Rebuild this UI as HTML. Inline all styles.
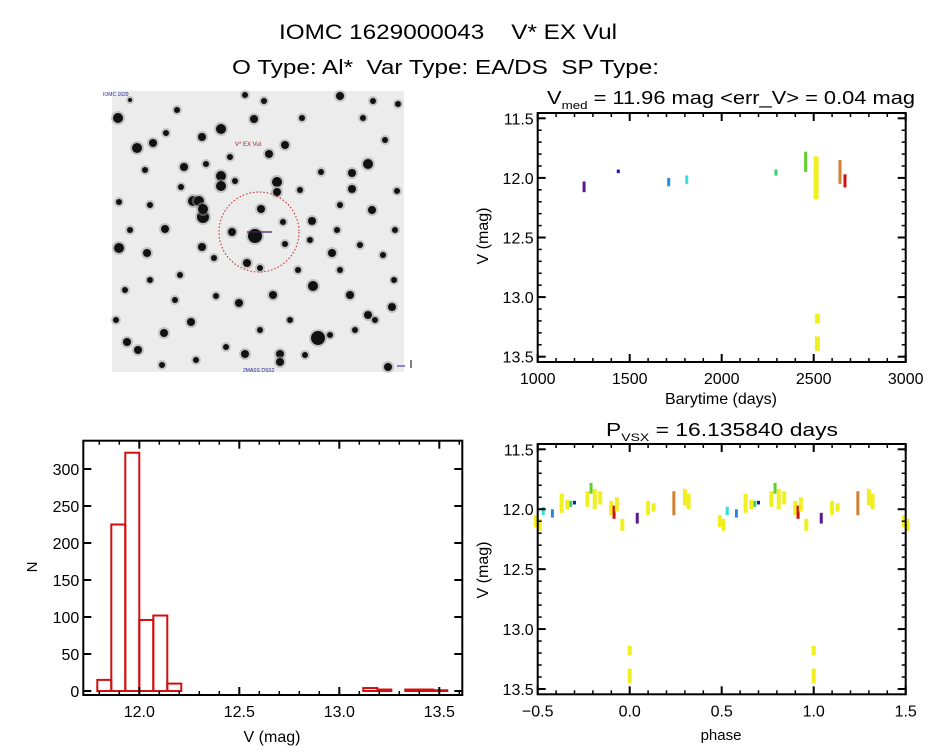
<!DOCTYPE html>
<html><head><meta charset="utf-8"><style>
body{margin:0;background:#fff;}
svg text{font-family:"Liberation Sans",sans-serif;fill:#000;}
</style></head><body>
<svg id="root" width="944" height="747" viewBox="0 0 944 747" xmlns="http://www.w3.org/2000/svg">
<rect width="944" height="747" fill="#fff"/>
<text x="279" y="39" font-size="21" textLength="338" lengthAdjust="spacingAndGlyphs" xml:space="preserve">IOMC 1629000043    V* EX Vul</text>
<text x="232" y="74" font-size="20" textLength="427" lengthAdjust="spacingAndGlyphs" xml:space="preserve">O Type: Al*  Var Type: EA/DS  SP Type:</text>
<g id="field"></g>
<g id="lc"></g>
<g id="hist"></g>
<g id="ph"></g>
</svg>
<script>
// ---- light curve data (time groups) ----
const lcTime = [1252, 1438, 1712, 1810, 2295, 2456, 2513, 2520, 2520, 2643, 2670];
const lcMagMin = [12.03, 11.93, 12.00, 11.98, 11.93, 11.78, 11.82, 13.14, 13.33, 11.85, 11.97];
const lcMagMax = [12.12, 11.96, 12.07, 12.05, 11.98, 11.95, 12.18, 13.22, 13.45, 12.05, 12.08];
const lcColor = ['#5a1a8a','#1a1aa8','#2a8ae0','#30e0e0','#30d070','#60d030','#f0f020','#f0f020','#f0f020','#d08030','#d01010'];
const lcXTicks = [1000, 1500, 2000, 2500, 3000];
const magTicks = [11.5, 12.0, 12.5, 13.0, 13.5];
// ---- phase data ----
const phPhase = [0.0, 0.0, 0.041, 0.10, 0.13, 0.24, 0.30, 0.32, 0.49, 0.51, 0.53, 0.58, 0.63, 0.66, 0.68, 0.70, 0.77, 0.79, 0.81, 0.84, 0.90, 0.915, 0.93, 0.96];
const phMagMin = [13.14, 13.33, 12.03, 11.93, 11.95, 11.85, 11.83, 11.87, 12.05, 12.08, 11.98, 12.00, 11.87, 11.92, 11.93, 11.93, 11.85, 11.78, 11.83, 11.85, 11.93, 11.97, 11.90, 12.08];
const phMagMax = [13.22, 13.45, 12.12, 12.05, 12.02, 12.05, 11.97, 12.00, 12.15, 12.18, 12.05, 12.07, 12.03, 12.00, 11.98, 11.96, 11.98, 11.87, 12.00, 11.96, 12.05, 12.08, 12.02, 12.18];
const phColor = ['#f0f020','#f0f020','#5a1a8a','#f0f020','#f0f020','#d08030','#f0f020','#f0f020','#f0f020','#f0f020','#30e0e0','#2a8ae0','#f0f020','#f0f020','#30d070','#1a1aa8','#f0f020','#60d030','#f0f020','#f0f020','#f0f020','#d01010','#f0f020','#f0f020'];
const phXTicks = [-0.5, 0.0, 0.5, 1.0, 1.5];
// ---- histogram data ----
const histStart = 11.79;
const histWidth = 0.07;
const histCounts = [15,225,322,96,102,10,0,0,0,0,0,0,0,0,0,0,0,0,0,4,2,0,2,2,1];
const histYTicks = [0,50,100,150,200,250,300];
const histXTicks = [12.0,12.5,13.0,13.5];

const NS='http://www.w3.org/2000/svg';
function mk(parent,tag,attrs,txt){const e=document.createElementNS(NS,tag);for(const k in attrs)e.setAttribute(k,attrs[k]);if(txt!==undefined)e.textContent=txt;parent.appendChild(e);return e;}

function frame(g,L,T,R,B,xs,ys,xmaj,xmin,ymaj,ymin,xfmt,yfmt){
  const r=mk(g,'rect',{x:L,y:T,width:R-L,height:B-T,fill:'none',stroke:'#000','stroke-width':2});
  
  
  xmin.forEach(v=>{const x=xs(v);mk(g,'line',{x1:x,x2:x,y1:B,y2:B-4,stroke:'#000','stroke-width':1.5});mk(g,'line',{x1:x,x2:x,y1:T,y2:T+4,stroke:'#000','stroke-width':1.5});});
  ymin.forEach(v=>{const y=ys(v);mk(g,'line',{x1:L,x2:L+4,y1:y,y2:y,stroke:'#000','stroke-width':1.5});mk(g,'line',{x1:R,x2:R-4,y1:y,y2:y,stroke:'#000','stroke-width':1.5});});
  xmaj.forEach(v=>{const x=xs(v);mk(g,'line',{x1:x,x2:x,y1:B,y2:B-8,stroke:'#000','stroke-width':2});mk(g,'line',{x1:x,x2:x,y1:T,y2:T+8,stroke:'#000','stroke-width':2});
    const t=mk(g,'text',{x:x,y:B+22,'font-size':16,'text-anchor':'middle'},xfmt(v));
    
    });
  ymaj.forEach(v=>{const y=ys(v);mk(g,'line',{x1:L,x2:L+8,y1:y,y2:y,stroke:'#000','stroke-width':2});mk(g,'line',{x1:R,x2:R-8,y1:y,y2:y,stroke:'#000','stroke-width':2});
    const t=mk(g,'text',{x:L-4,y:y+6,'font-size':16,'text-anchor':'end'},yfmt(v));
    
    });
}
function range(a,b,s){const o=[];for(let v=a;v<=b+1e-9;v+=s)o.push(+v.toFixed(4));return o;}

// ---- light curve ----
(function(){
  const g=document.getElementById('lc');
  const L=537.7,R=905.7,T=113,B=362;
  const xs=v=>L+(v-1000)/2000*(R-L);
  const ys=v=>118.3+(v-11.5)*119.2;
  lcTime.forEach((t,i)=>{
    const w=lcColor[i]==='#f0f020'?5:3;
    const r=mk(g,'rect',{x:xs(t)-w/2,y:ys(lcMagMin[i]),width:w,height:Math.max(3,ys(lcMagMax[i])-ys(lcMagMin[i])),fill:lcColor[i]});
    
    
  });
  frame(g,L,T,R,B,xs,ys,lcXTicks,range(1000,3000,100),magTicks,range(11.5,13.5,0.1),v=>String(v),v=>v.toFixed(1));
  const t1=mk(g,'text',{x:547,y:104,'font-size':18,textLength:368,lengthAdjust:'spacingAndGlyphs'});
  
  
  t1.innerHTML='V<tspan font-size="11" dy="5">med</tspan><tspan dy="-5"> = 11.96 mag &lt;err_V&gt; = 0.04 mag</tspan>';
  const xt=mk(g,'text',{x:721,y:404,'font-size':16,'text-anchor':'middle'},'Barytime (days)');
  
  
  const yt=mk(g,'text',{x:0,y:0,'font-size':16,'text-anchor':'middle',transform:'translate(488,236) rotate(-90)'},'V (mag)');
  
  
})();

// ---- phase ----
(function(){
  const g=document.getElementById('ph');
  const L=537.7,R=905.7,T=444,B=694.3;
  const xs=v=>L+(v+0.5)/2*(R-L);
  const ys=v=>449.3+(v-11.5)*119.85;
  phPhase.forEach((p,i)=>{
    [p-1,p,p+1].forEach(q=>{
      if(q<-0.51||q>1.51)return;
      const w=phColor[i]==='#f0f020'?4:3;
      const r=mk(g,'rect',{x:xs(q)-w/2,y:ys(phMagMin[i]),width:w,height:Math.max(3,ys(phMagMax[i])-ys(phMagMin[i])),fill:phColor[i]});
      
      
    });
  });
  frame(g,L,T,R,B,xs,ys,phXTicks,range(-0.5,1.5,0.1),magTicks,range(11.5,13.5,0.1),v=>v<0?'\u2212'+Math.abs(v).toFixed(1):v.toFixed(1),v=>v.toFixed(1));
  const t1=mk(g,'text',{x:606,y:436,'font-size':18,textLength:232,lengthAdjust:'spacingAndGlyphs'});
  
  
  t1.innerHTML='P<tspan font-size="11" dy="5">VSX</tspan><tspan dy="-5"> = 16.135840 days</tspan>';
  const xt=mk(g,'text',{x:721,y:740,'font-size':15,'text-anchor':'middle'},'phase');
  
  
  const yt=mk(g,'text',{x:0,y:0,'font-size':16,'text-anchor':'middle',transform:'translate(488,570) rotate(-90)'},'V (mag)');
  
  
})();

// ---- histogram ----
(function(){
  const g=document.getElementById('hist');
  const L=83.3,R=462.3,T=440.7,B=695;
  const xs=v=>139.3+(v-12.0)*200;
  const ys=v=>691-v*0.74;
  histCounts.forEach((c,i)=>{
    const x0=xs(histStart+i*histWidth),x1=xs(histStart+(i+1)*histWidth);
    const r=mk(g,'rect',{x:x0,y:ys(c),width:x1-x0,height:ys(0)-ys(c),fill:'none',stroke:'#d01010','stroke-width':2});
    
    
  });
  frame(g,L,T,R,B,xs,ys,histXTicks,range(11.8,13.6,0.1),histYTicks,[],v=>v.toFixed(1),v=>String(v));
  const xt=mk(g,'text',{x:272,y:742,'font-size':16,'text-anchor':'middle'},'V (mag)');
  
  
  const yt=mk(g,'text',{x:0,y:0,'font-size':15,'text-anchor':'middle',transform:'translate(37,567) rotate(-90)'},'N');
  
  
})();

// ---- star field image ----
(function(){
  const g=document.getElementById('field');
  mk(g,'rect',{x:112,y:91,width:292,height:281,fill:'#ececec'});
  const stars=[[118,118,5],[221,129,5],[254,119,4],[137,148,5],[153,143,4],[166,133,3],[202,137,4],[285,145,4],[269,154,4],[368,164,5],[184,167,4],[221,176,5],[221,186,5],[235,181,3],[277,182,5],[277,192,4],[352,173,4],[352,189,4],[181,187,3],[193,201,5],[199,201,5],[203,217,6],[203,209,5],[261,209,4],[312,221,4],[255,236,7],[232,232,4],[119,248,5],[332,253,4],[313,286,5],[273,295,4],[239,303,4],[350,295,4],[318,338,7],[392,307,4],[368,315,4],[191,322,4],[164,333,4],[127,342,4],[138,350,4],[245,354,4],[280,354,4],[280,362,4],[388,367,4],[202,247,4],[147,253,4],[165,229,4],[119,202,3],[247,263,4],[285,244,3],[283,222,3],[397,191,3],[372,210,4],[337,230,3],[245,95,3],[340,96,4],[302,118,3],[363,118,3],[373,101,3],[398,104,3],[385,140,3],[130,100,2],[177,110,3],[264,101,3],[230,157,3],[206,164,3],[145,170,3],[214,258,3],[150,280,3],[175,300,3],[216,296,3],[226,347,3],[305,355,3],[330,335,3],[355,330,3],[375,320,3],[340,270,3],[360,245,3],[383,255,3],[298,270,3],[290,320,3],[260,330,3],[180,275,3],[125,290,3],[116,320,3],[395,230,3],[394,280,3],[321,172,3],[300,190,3],[130,230,3],[150,205,3],[260,268,3],[340,205,3],[310,240,3],[196,360,3],[162,365,3]];
  stars.forEach(s=>{
    mk(g,'circle',{cx:s[0],cy:s[1],r:s[2]+2,fill:'#9a9a9a',opacity:0.5});
    mk(g,'circle',{cx:s[0],cy:s[1],r:s[2],fill:'#111'});
  });
  mk(g,'circle',{cx:259,cy:232,r:40,fill:'none',stroke:'#c02020','stroke-width':1,'stroke-dasharray':'1.5,2'});
  mk(g,'line',{x1:247,x2:272,y1:232,y2:232,stroke:'#402060','stroke-width':1.2});
  const lb=mk(g,'text',{x:248,y:146,'font-size':6,'text-anchor':'middle',style:'fill:#a02020'},'V* EX Vul');
  
  
  mk(g,'text',{x:103,y:96,'font-size':5,style:'fill:#20209a'},'IOMC 1629');
  mk(g,'text',{x:243,y:372,'font-size':5,style:'fill:#20209a'},'2MASS DSS2');
  mk(g,'line',{x1:397,x2:405,y1:366,y2:366,stroke:'#20209a','stroke-width':1});
  mk(g,'line',{x1:411,x2:411,y1:360,y2:368,stroke:'#000','stroke-width':1});
})();
</script>
</body></html>
